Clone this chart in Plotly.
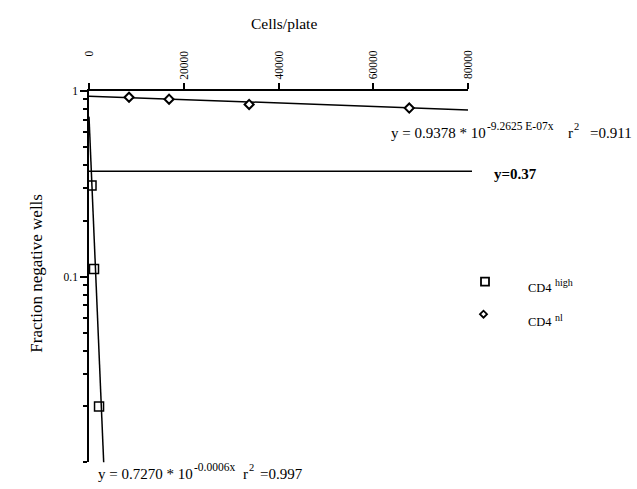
import numpy as np
import plotly.graph_objects as go

# ---- data -------------------------------------------------------------
cd4_high_cells = [530, 1060, 2120]
cd4_high_frac = [0.31, 0.11, 0.02]

cd4_nl_cells = [8450, 16900, 33800, 67600]
cd4_nl_frac = [0.925, 0.903, 0.846, 0.809]

# fitted curves y = a * 10^(b*x)
fit_high = (0.7270, -0.0006)
fit_nl = (0.9378, -9.2625e-07)
threshold = 0.37

x_ticks = [0, 20000, 40000, 60000, 80000]
x_tick_labels = ["0", "20000", "40000", "60000", "80000"]
y_ticks = [1, 0.1]
y_tick_labels = ["1", "0.1"]
y_minor = [0.9, 0.8, 0.7, 0.6, 0.5, 0.4, 0.3, 0.2,
           0.09, 0.08, 0.07, 0.06, 0.05, 0.04, 0.03, 0.02, 0.01]

# ---- geometry helpers (figure pixels -> paper fraction) ---------------
W, H = 637, 489
FONT = "Liberation Serif"
Y_RANGE = (-2, 0)


def px(x):
    return x / W


def py(y):
    return 1 - y / H


PLOT_L, PLOT_R, PLOT_T, PLOT_B = 89, 468, 86, 462
Y_DOMAIN = [py(PLOT_B), py(PLOT_T)]


def log_to_paper(v):
    """Position of a value on the log y axis, as a paper fraction."""
    f = (np.log10(v) - Y_RANGE[0]) / (Y_RANGE[1] - Y_RANGE[0])
    return Y_DOMAIN[0] + f * (Y_DOMAIN[1] - Y_DOMAIN[0])


fig = go.Figure()

# fitted lines
xn = np.linspace(0, 80000, 200)
fig.add_trace(go.Scatter(
    x=xn, y=fit_nl[0] * 10 ** (fit_nl[1] * xn), mode="lines",
    line=dict(color="black", width=1.5), hoverinfo="skip"))
xh = np.linspace(0, 3400, 200)
fig.add_trace(go.Scatter(
    x=xh, y=fit_high[0] * 10 ** (fit_high[1] * xh), mode="lines",
    line=dict(color="black", width=1.5), hoverinfo="skip"))

# measured points
fig.add_trace(go.Scatter(
    x=cd4_nl_cells, y=cd4_nl_frac, mode="markers", name="CD4 nl",
    marker=dict(symbol="diamond", size=7, color="white",
                line=dict(color="black", width=2))))
fig.add_trace(go.Scatter(
    x=cd4_high_cells, y=cd4_high_frac, mode="markers", name="CD4 high",
    marker=dict(symbol="square-open", size=9, color="black",
                line=dict(color="black", width=1.5))))

y37 = log_to_paper(threshold)
shapes = [
    # 37% negative-wells reference line (runs a little past the axis end)
    dict(type="line", xref="paper", yref="paper",
         x0=px(PLOT_L), x1=px(472), y0=y37, y1=y37,
         line=dict(color="black", width=1.5)),
    # legend symbols
    dict(type="rect", xref="paper", yref="paper",
         x0=px(481), x1=px(489), y0=py(283), y1=py(275),
         line=dict(color="black", width=1.8), fillcolor="white"),
    dict(type="path", xref="paper", yref="paper",
         path=(f"M {px(480)} {py(312)} L {px(483.5)} {py(308.5)} "
               f"L {px(487)} {py(312)} L {px(483.5)} {py(315.5)} Z"),
         line=dict(color="black", width=1.8), fillcolor="white"),
]

ann = []


def text(x, y, s, size, xanchor="left", yanchor="middle", angle=0,
         bold=False):
    ann.append(dict(x=px(x), y=py(y), xref="paper", yref="paper", text=s,
                    showarrow=False, xanchor=xanchor, yanchor=yanchor,
                    textangle=angle,
                    font=dict(family=FONT, size=size, color="black",
                              weight="bold" if bold else "normal")))


# x tick labels, rotated, along the top axis
for v, lab in zip(x_ticks, x_tick_labels):
    ann.append(dict(x=v, y=py(43), xref="x", yref="paper", text=lab,
                    showarrow=False, xanchor="center", yanchor="top",
                    textangle=-90,
                    font=dict(family=FONT, size=11.5, color="black")))

# axis titles
text(284, 18, "Cells/plate", 15.5, xanchor="center")
text(37, 271, "Fraction negative wells", 17, xanchor="center", angle=-90)

# fit equations
text(389, 129, "y = 0.9378 * 10", 15)
text(485, 121.5, "-9.2625 E-07x", 11.5)
text(566, 129, "r", 15)
text(572, 122, "2", 10.5)
text(588, 129, "=0.911", 15)

text(96, 474, "y = 0.7270 * 10", 15)
text(192, 466.5, "-0.0006x", 11.5)
text(241, 474, "r", 15)
text(247, 467, "2", 10.5)
text(258, 474, "=0.997", 15)

text(492, 170, "y=0.37", 15, bold=True)

# legend labels
text(526, 285, "CD4", 12.5)
text(553, 280, "high", 10)
text(526, 320, "CD4", 12.5)
text(553, 315, "nl", 10)

fig.update_layout(
    width=W, height=H, margin=dict(l=0, r=0, t=0, b=0),
    paper_bgcolor="white", plot_bgcolor="white", showlegend=False,
    shapes=shapes, annotations=ann,
    xaxis=dict(domain=[px(PLOT_L), px(PLOT_R)], range=[0, 80000],
               side="top", anchor="y", showline=True, linecolor="black",
               linewidth=2, ticks="outside", ticklen=6, tickwidth=1.5,
               tickcolor="black", tickvals=x_ticks, showticklabels=False,
               showgrid=False, zeroline=False),
    yaxis=dict(domain=Y_DOMAIN, type="log", range=list(Y_RANGE),
               anchor="x", showline=True, linecolor="black", linewidth=1.5,
               ticks="outside", ticklen=7, tickwidth=1.5, tickcolor="black",
               tickvals=y_ticks, ticktext=y_tick_labels,
               tickfont=dict(family=FONT, size=11.5, color="black"),
               minor=dict(tickmode="array", tickvals=y_minor, ticks="outside",
                          ticklen=4, tickwidth=1.5, tickcolor="black",
                          showgrid=False),
               showgrid=False, zeroline=False),
)

fig.write_html("out.html")
